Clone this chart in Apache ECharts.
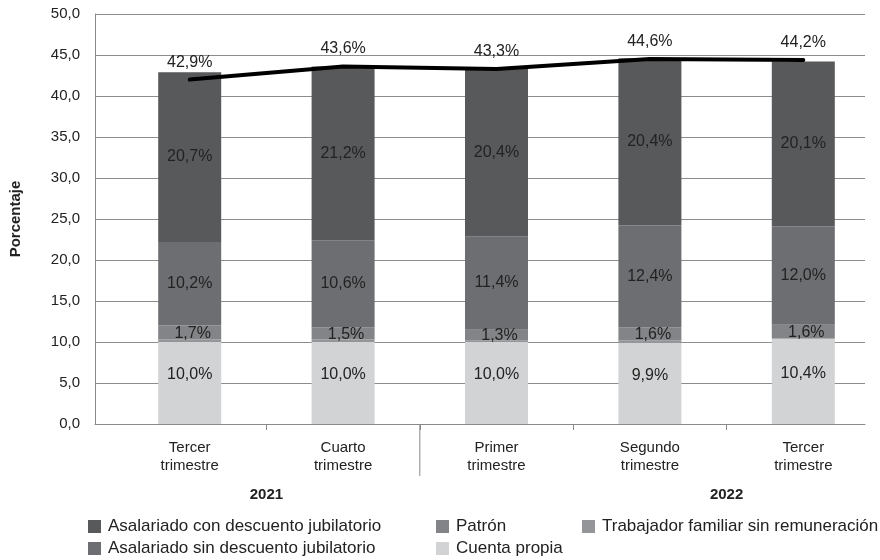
<!DOCTYPE html>
<html>
<head>
<meta charset="utf-8">
<script src="https://cdn.jsdelivr.net/npm/echarts@6/dist/echarts.min.js"></script>
<style>html,body{margin:0;padding:0;background:#fff}#c{width:880px;height:560px}</style>
</head>
<body>
<div id="c"></div>
<script>
const categories = ['Tercer\ntrimestre','Cuarto\ntrimestre','Primer\ntrimestre','Segundo\ntrimestre','Tercer\ntrimestre'];
const years = ['2021','2022'];
const cuentaPropia = [10.0, 10.0, 10.0, 9.9, 10.4];
const trabajadorFamiliar = [0.3, 0.3, 0.2, 0.3, 0.1];
const patron = [1.7, 1.5, 1.3, 1.6, 1.6];
const asalariadoSin = [10.2, 10.6, 11.4, 12.4, 12.0];
const asalariadoCon = [20.7, 21.2, 20.4, 20.4, 20.1];
const totals = [42.9, 43.6, 43.3, 44.6, 44.2];
const totalLine = [42.0, 43.6, 43.3, 44.5, 44.4];
const yMin = 0, yMax = 50, yStep = 5;

const FONT = '"Liberation Sans", Arial, sans-serif';
const TXT = '#222';
const fmt = v => v.toFixed(1).replace('.', ',') + '%';

const segLabel = (extra) => Object.assign({
  show: true, position: 'inside', color: TXT, fontFamily: FONT, fontSize: 16,
  formatter: p => fmt(p.value)
}, extra || {});

function bar(name, data, color, label) {
  return {
    name, type: 'bar', stack: 'a', xAxisIndex: 1, yAxisIndex: 1,
    barWidth: 63, data, itemStyle: { color },
    label: label, emphasis: { disabled: true }
  };
}

const legendBase = {
  top: 518, orient: 'vertical', icon: 'rect', itemWidth: 13, itemHeight: 13, itemGap: 5,
  padding: 0, selectedMode: false,
  textStyle: { color: TXT, fontFamily: FONT, fontSize: 17, padding: [0, 0, 0, 2] }
};

const chart = echarts.init(document.getElementById('c'), null, { renderer: 'canvas' });
const option = {
  animation: false,
  textStyle: { fontFamily: FONT },
  grid: [
    { left: 88, right: 15, top: 14, bottom: 136 },
    { left: 113, width: 781.5, top: 14, bottom: 136 }
  ],
  xAxis: [
    { type: 'category', gridIndex: 0, data: categories, axisLabel: { show: false },
      axisTick: { show: false }, axisLine: { lineStyle: { color: '#8a8a8a', width: 1 } } },
    { type: 'category', gridIndex: 1, data: categories,
      axisLine: { show: false },
      axisTick: { show: true, length: 6, interval: (i) => i !== 0, lineStyle: { color: '#8a8a8a' } },
      axisLabel: { color: TXT, fontFamily: FONT, fontSize: 15, lineHeight: 18, margin: 15, interval: 0 } }
  ],
  yAxis: [
    { type: 'value', gridIndex: 0, min: yMin, max: yMax, interval: yStep,
      name: 'Porcentaje', nameLocation: 'middle', nameGap: 72, nameRotate: 90,
      nameTextStyle: { color: TXT, fontFamily: FONT, fontSize: 15, fontWeight: 'bold' },
      axisLine: { show: true, lineStyle: { color: '#8a8a8a' } }, axisTick: { show: false },
      axisLabel: { color: TXT, fontFamily: FONT, fontSize: 15, margin: 15,
        formatter: v => v.toFixed(1).replace('.', ',') },
      splitLine: { lineStyle: { color: '#8c8c8c', width: 1 } } },
    { type: 'value', gridIndex: 1, min: yMin, max: yMax, interval: yStep, show: false,
      splitLine: { show: false } }
  ],
  legend: [
    Object.assign({}, legendBase, { left: 88,
      data: ['Asalariado con descuento jubilatorio', 'Asalariado sin descuento jubilatorio'] }),
    Object.assign({}, legendBase, { left: 436, data: ['Patrón', 'Cuenta propia'] }),
    Object.assign({}, legendBase, { left: 582, data: ['Trabajador familiar sin remuneración'] })
  ],
  series: [
    bar('Cuenta propia', cuentaPropia, '#d1d3d4', segLabel({ offset: [0, -8] })),
    bar('Trabajador familiar sin remuneración', trabajadorFamiliar, '#939598', { show: false }),
    bar('Patrón', patron, '#838487', segLabel({ offset: [3, 1] })),
    bar('Asalariado sin descuento jubilatorio', asalariadoSin, '#6d6e71', segLabel()),
    bar('Asalariado con descuento jubilatorio', asalariadoCon, '#58595b', segLabel()),
    { name: 'Total', type: 'line', xAxisIndex: 1, yAxisIndex: 1, data: totalLine,
      symbol: 'circle', symbolSize: 1, itemStyle: { color: '#000' },
      lineStyle: { color: '#000', width: 4, cap: 'round', join: 'round' }, z: 10,
      label: { show: true, position: 'top', distance: 9, color: TXT, fontFamily: FONT, fontSize: 16,
        formatter: p => fmt(totals[p.dataIndex]) },
      emphasis: { disabled: true } }
  ]
};
chart.setOption(option);

const px = i => chart.convertToPixel({ xAxisIndex: 1 }, i);
const axisY = chart.convertToPixel({ yAxisIndex: 0 }, 0);
const div12 = (px(1) + px(2)) / 2;
const y2021 = (px(0) + px(1)) / 2;
const y2022 = (px(3) + px(4)) / 2;
chart.setOption({
  graphic: [
    { type: 'line', shape: { x1: div12, y1: axisY, x2: div12, y2: axisY + 52 },
      style: { stroke: '#8a8a8a', lineWidth: 1 } },
    { type: 'text', x: y2021, y: axisY + 71, style: { text: years[0], fill: TXT,
      font: 'bold 15px ' + FONT, textAlign: 'center', textVerticalAlign: 'middle' } },
    { type: 'text', x: y2022, y: axisY + 71, style: { text: years[1], fill: TXT,
      font: 'bold 15px ' + FONT, textAlign: 'center', textVerticalAlign: 'middle' } }
  ]
});
</script>
</body>
</html>
